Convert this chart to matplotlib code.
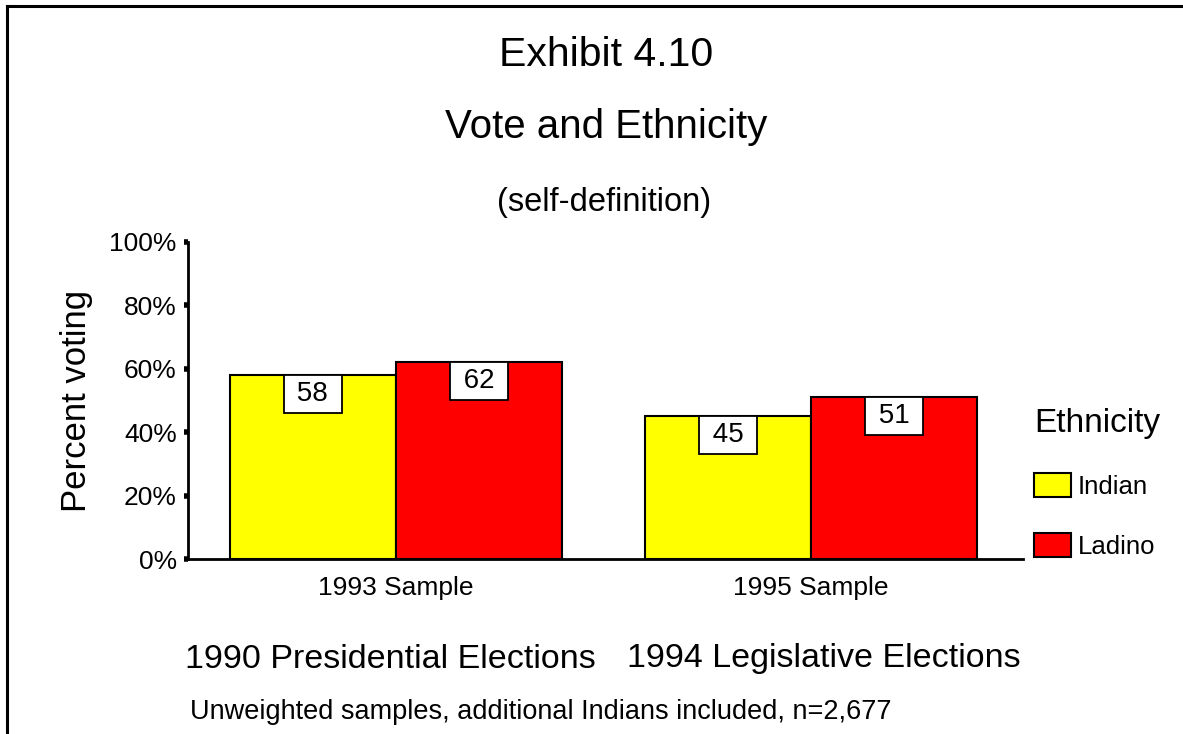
import numpy as np
import matplotlib
matplotlib.use("Agg")
import matplotlib.pyplot as plt
import matplotlib.transforms as mtransforms
from matplotlib.lines import Line2D
from matplotlib.patches import Patch

# datos
samples = ["1993 Sample", "1995 Sample"]
elections = ["1990 Presidential Elections", "1994 Legislative Elections"]
ethnicity = ["Indian", "Ladino"]
indian = [58, 45]
ladino = [62, 51]
colores = ["#FFFF00", "#FF0000"]
yticks = [0, 20, 40, 60, 80, 100]


def main():
    plt.rcParams["font.family"] = ["Liberation Sans", "DejaVu Sans"]
    fig = plt.figure(figsize=(11.83, 7.34), dpi=100)
    ax = fig.add_axes([0.1589, 0.2384, 0.7059, 0.4319])

    # barras
    x = np.arange(len(samples))
    w = 0.4
    series = [indian, ladino]
    for k in range(len(series)):
        pos = x - w / 2 + k * w
        ax.bar(pos, series[k], width=w, color=colores[k], edgecolor="black",
               linewidth=1.5, label=ethnicity[k], zorder=2)
        for p, v in zip(pos, series[k]):
            ax.annotate(" %d " % v, xy=(p, v), xytext=(0, -4.2),
                        textcoords="offset points", ha="center", va="top",
                        fontsize=20, zorder=3,
                        bbox=dict(boxstyle="square,pad=0.21", fc="white",
                                  ec="black", lw=1.3))

    # ejes
    ax.set_xlim(-0.5, 1.51)
    ax.set_ylim(0, 100)
    ax.set_yticks(yticks)
    ax.set_yticklabels(["%d%%" % t for t in yticks], fontsize=19)
    ax.tick_params(axis="y", direction="out", length=3, width=4, pad=5)
    ax.set_xticks(x)
    ax.set_xticklabels(samples, fontsize=19)
    ax.tick_params(axis="x", length=0, pad=12)
    ax.spines["top"].set_visible(False)
    ax.spines["right"].set_visible(False)
    ax.spines["left"].set_linewidth(2)
    ax.spines["bottom"].set_linewidth(2)
    ax.set_ylabel("Percent voting", fontsize=25, labelpad=12)

    # etiquetas de eleccion debajo (x en datos, y en figura)
    trans = mtransforms.blended_transform_factory(ax.transData, fig.transFigure)
    desplaz = [-0.012, 0.03]
    for i in range(len(elections)):
        ax.text(x[i] + desplaz[i], 1 - 659 / 734, elections[i], transform=trans,
                fontsize=24.5, ha="center", va="center")
    fig.text(190 / 1183, 1 - 712 / 734,
             "Unweighted samples, additional Indians included, n=2,677",
             fontsize=19.5, ha="left", va="center")

    # titulos
    fig.text(606 / 1183, 1 - 55 / 734, "Exhibit 4.10", fontsize=29.5,
             ha="center", va="center")
    fig.text(606 / 1183, 1 - 127 / 734, "Vote and Ethnicity", fontsize=29,
             ha="center", va="center")
    fig.text(604 / 1183, 1 - 203 / 734, "(self-definition)", fontsize=23.5,
             ha="center", va="center")

    # leyenda
    handles = [Patch(facecolor=colores[k], edgecolor="black", linewidth=1.5)
               for k in range(2)]
    fig.legend(handles, ethnicity, loc="upper left",
               bbox_to_anchor=(1016 / 1183, 1 - 390 / 734),
               frameon=False, fontsize=18.5, title="Ethnicity",
               title_fontsize=24, alignment="left",
               handlelength=1.44, handleheight=1.05, handletextpad=0.25,
               labelspacing=1.33, borderpad=0.2)

    # marco
    fig.add_artist(Line2D([7 / 1183, 1], [1 - 6 / 734, 1 - 6 / 734],
                          color="black", lw=2.2, transform=fig.transFigure))
    fig.add_artist(Line2D([7 / 1183, 7 / 1183], [0, 1 - 6 / 734],
                          color="black", lw=2.2, transform=fig.transFigure))

    fig.savefig("out.png", dpi=100)


if __name__ == "__main__":
    main()
